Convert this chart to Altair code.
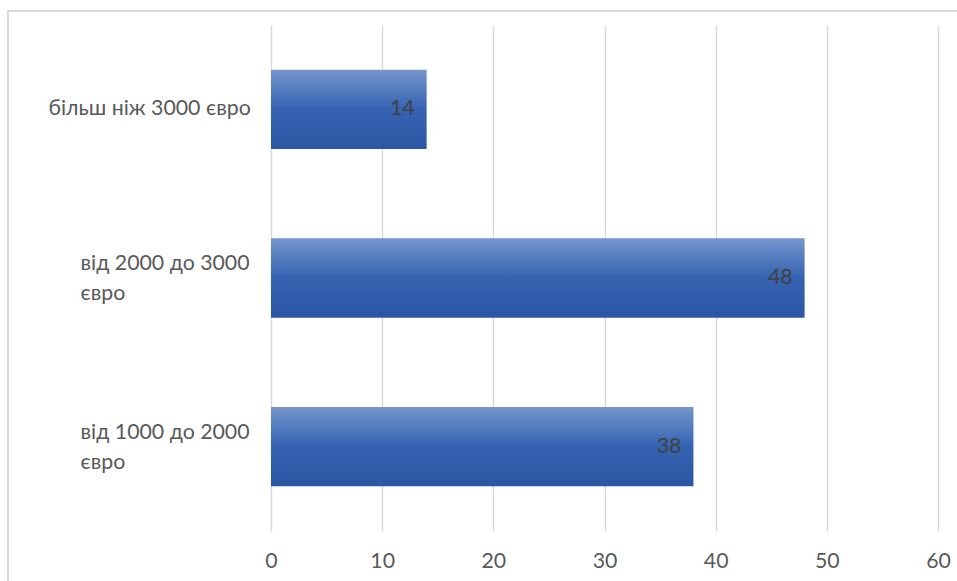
import altair as alt
import pandas as pd

categories = ["більш ніж 3000 євро", "від 2000 до 3000 євро", "від 1000 до 2000 євро"]
values = [14, 48, 38]
x_ticks = [0, 10, 20, 30, 40, 50, 60]

df = pd.DataFrame({"category": categories, "value": values})

FONT = "Lato"
FS = 21.3
LABEL_COLOR = "#595959"
SINGLE = "datum.value == 'більш ніж 3000 євро'"

x_enc = alt.X(
    "value:Q",
    scale=alt.Scale(domain=[0, 60], nice=False),
    axis=alt.Axis(
        values=x_ticks,
        grid=True,
        gridColor="#d9d9d9",
        gridWidth=1.5,
        ticks=False,
        domain=False,
        title=None,
        labelFont=FONT,
        labelFontSize=FS,
        labelColor=LABEL_COLOR,
        labelPadding=19,
        labelFlush=False,
    ),
)

y_enc = alt.Y(
    "category:N",
    sort=categories,
    scale=alt.Scale(paddingInner=0.53, paddingOuter=0.265),
    axis=alt.Axis(
        title=None,
        ticks=False,
        tickSize=0,
        domain=False,
        grid=False,
        labelFont=FONT,
        labelFontSize=FS,
        labelColor=LABEL_COLOR,
        labelAlign="left",
        labelBaseline="middle",
        labelLineHeight=30,
        labelLimit=400,
        labelPadding={"condition": {"test": SINGLE, "value": 223}, "value": 191},
        labelOffset={"condition": {"test": SINGLE, "value": 0}, "value": -14},
        labelExpr="datum.label == 'більш ніж 3000 євро' ? datum.label : [replace(datum.label, ' євро', ''), 'євро']",
    ),
)

bars = alt.Chart(df).mark_bar(
    color=alt.LinearGradient(
        gradient="linear",
        x1=0, y1=0, x2=0, y2=1,
        stops=[
            alt.GradientStop(color="#7595cc", offset=0),
            alt.GradientStop(color="#3563b2", offset=0.5),
            alt.GradientStop(color="#2a56a3", offset=1),
        ],
    )
).encode(x=x_enc, y=y_enc)

labels = alt.Chart(df).mark_text(
    align="right", baseline="middle", dx=-12,
    font=FONT, fontSize=FS, color="#404040",
).encode(x="value:Q", y=alt.Y("category:N", sort=categories), text="value:Q")

border = alt.Chart(alt.Data(values=[{"a": 1}])).mark_rect(
    fill=None, stroke="#d9d9d9", strokeWidth=2, fillOpacity=0
).encode(
    x=alt.value(-263), x2=alt.value(700),
    y=alt.value(-14), y2=alt.value(570),
)

chart = alt.layer(border, bars, labels).properties(
    width=667,
    height=506,
    autosize=alt.AutoSizeParams(type="none"),
    padding={"left": 271, "top": 25, "right": 19, "bottom": 50},
    background="white",
).configure_view(stroke=None)

chart.save("out.html", embed_options={"renderer": "svg", "actions": False})
